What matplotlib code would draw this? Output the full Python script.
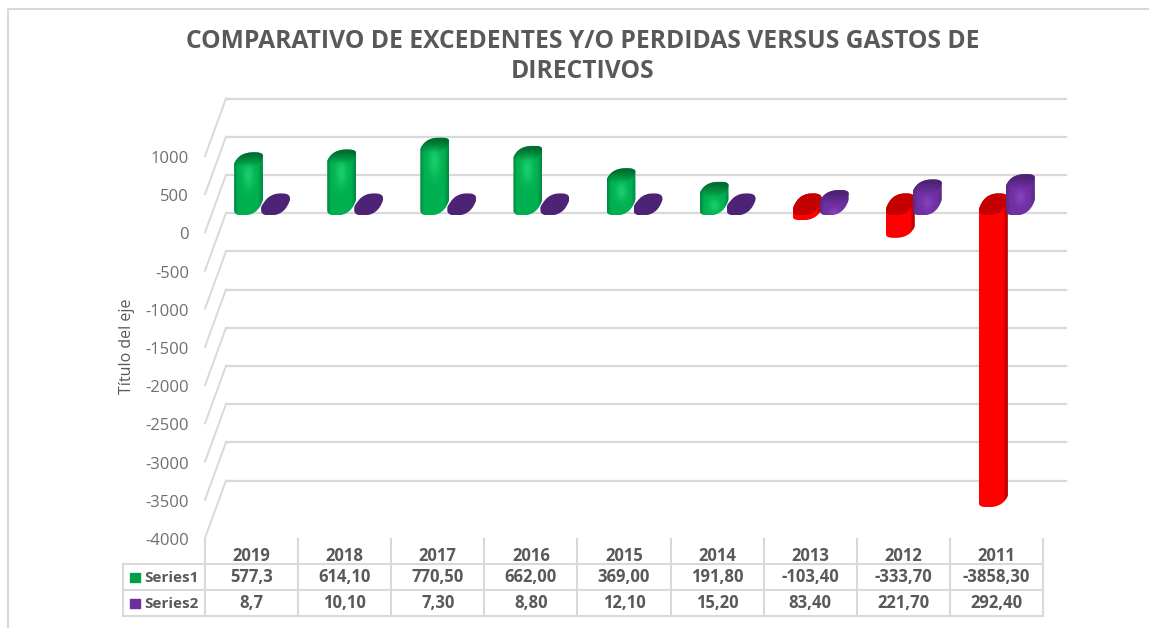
import numpy as np
import matplotlib
matplotlib.use('Agg')
import matplotlib.pyplot as plt
from matplotlib.path import Path
from matplotlib.patches import PathPatch

plt.rcParams['font.family'] = ['Open Sans', 'DejaVu Sans']

years = ['2019', '2018', '2017', '2016', '2015', '2014', '2013', '2012', '2011']
series1 = [577.3, 614.10, 770.50, 662.00, 369.00, 191.80, -103.40, -333.70, -3858.30]
series2 = [8.7, 10.10, 7.30, 8.80, 12.10, 15.20, 83.40, 221.70, 292.40]
series1_txt = ['577,3', '614,10', '770,50', '662,00', '369,00', '191,80', '-103,40', '-333,70', '-3858,30']
series2_txt = ['8,7', '10,10', '7,30', '8,80', '12,10', '15,20', '83,40', '221,70', '292,40']
ticks = [1000, 500, 0, -500, -1000, -1500, -2000, -2500, -3000, -3500, -4000]

W, H = 1149, 628
grey = '#d9d9d9'
txt = '#595959'

# pixel sizes of one category / one unit in the main axes
PX_X = 1 / 93.1
PX_Y = 500 / 38.2
Y_SHIFT = 28 * PX_Y
BACK_X, BACK_Y = 21 * PX_X, 57.5 * PX_Y

fig = plt.figure(figsize=(W / 100, H / 100), dpi=100)

# overlay in pixels for frame, title and table
bg = fig.add_axes([0, 0, 1, 1])
bg.set_xlim(0, W)
bg.set_ylim(H, 0)
bg.axis('off')

ax = fig.add_axes([205 / W, 1 - 538 / H, 838 / W, 382 / H])
ax.set_xlim(0, 9)
ax.set_ylim(-4000, 1000)
ax.axis('off')


def leaf(cx, cy, hy):
    t = np.linspace(0, 2 * np.pi, 160)
    u = np.sign(np.cos(t)) * np.abs(np.cos(t)) ** 0.8
    v = np.sign(np.sin(t)) * np.abs(np.sin(t)) ** 0.8
    x = cx + (12.6 * u + 5.6 * v) * PX_X
    y = cy + hy * v * PX_Y
    return np.column_stack([x, y])


def hull(pts):
    pts = sorted(map(tuple, pts))
    def half(seq):
        out = []
        for p in seq:
            while len(out) > 1 and (out[-1][0] - out[-2][0]) * (p[1] - out[-2][1]) - (out[-1][1] - out[-2][1]) * (p[0] - out[-2][0]) <= 0:
                out.pop()
            out.append(p)
        return out[:-1]
    return np.array(half(pts) + half(pts[::-1]))


def shaded(outline, rgba, z):
    patch = PathPatch(Path(np.vstack([outline, outline[0]])), transform=ax.transData, fc='none', ec='none')
    ax.add_patch(patch)
    x0, x1 = outline[:, 0].min(), outline[:, 0].max()
    y0, y1 = outline[:, 1].min(), outline[:, 1].max()
    im = ax.imshow(rgba, extent=(x0, x1, y0, y1), origin='lower', aspect='auto', zorder=z,
                   interpolation='bilinear')
    im.set_clip_box(fig.bbox)
    im.set_clip_path(patch)


def hexrgb(c):
    return np.array(matplotlib.colors.to_rgb(c))


def side_img(edge_l, mid, hi, edge_r, hi_at):
    # cylinder shading across the bar, with a soft highlight near the top
    x = np.linspace(0, 1, 40)
    y = np.linspace(0, 1, 80)
    xx, yy = np.meshgrid(x, y)
    img = np.zeros(xx.shape + (3,))
    for k in range(3):
        img[..., k] = np.where(xx < 0.5,
                               np.interp(xx, [0, 0.14, 0.5], [edge_l[k], mid[k], mid[k]]),
                               np.interp(xx, [0.5, 0.84, 1], [mid[k], mid[k], edge_r[k]]))
    glow = np.exp(-((xx - 0.5) / 0.2) ** 2 - ((yy - hi_at) / 0.2) ** 2)
    return img * (1 - glow[..., None] * 0.8) + hi * glow[..., None] * 0.8


def cap_img(top, bottom, fade=1.0):
    y = np.linspace(0, 1, 40)[:, None, None]
    c = bottom * (1 - y ** fade) + top * y ** fade
    return np.repeat(c, 4, axis=1)


def draw_bar(i, offset, val, pal, z):
    cx = i + 0.5 + offset * PX_X
    base = leaf(cx, Y_SHIFT, 11)
    end = leaf(cx, Y_SHIFT + val, 8)
    body = hull(np.vstack([base, end]))
    if abs(val) < 30:
        shaded(body, cap_img(pal['cap'], pal['cap']), z)
    elif val > 0:
        h = (body[:, 1].max() - body[:, 1].min()) / PX_Y
        shaded(body, side_img(pal['edge'], pal['mid'], pal['hi'], pal['edge'], 1 - 24 / h), z)
        # dark top face fading into the side at its lower edge
        alpha = np.clip(np.linspace(-0.1, 1.25, 40), 0, 1)[:, None, None]
        rgba = np.dstack([cap_img(pal['cap'], pal['cap']), np.repeat(alpha, 4, axis=1)])
        shaded(end, rgba, z + 0.1)
    else:
        # negative bars hang under the darker top face at the zero level
        shaded(body, side_img(pal['mid'], pal['mid'], pal['mid'], pal['edge'], 0.5), z)
        shaded(base, cap_img(pal['cap'], pal['cap']), z + 0.1)


green = dict(edge=hexrgb('#008a42'), mid=hexrgb('#00b050'), hi=hexrgb('#1fd673'), cap=hexrgb('#006f30'))
purple = dict(edge=hexrgb('#5a2a85'), mid=hexrgb('#6f30a2'), hi=hexrgb('#8a45c0'), cap=hexrgb('#4d2375'))
red = dict(edge=hexrgb('#a80000'), mid=hexrgb('#ff0000'), hi=hexrgb('#ff0000'), cap=hexrgb('#c40000'))

# back wall and side wall gridlines
for t in ticks:
    ax.plot([0, BACK_X], [t, t + BACK_Y], color=grey, lw=1.4, clip_on=False, zorder=1)
    ax.plot([BACK_X, 9 + 23 * PX_X], [t + BACK_Y, t + BACK_Y], color=grey, lw=1.6, clip_on=False, zorder=1)
    ax.text(-16 * PX_X, t - 3 * PX_Y, str(t), ha='right', va='center', fontsize=12, color='#6f6f6f', clip_on=False)

for i in range(9):
    draw_bar(i, -3, series1[i], green if series1[i] >= 0 else red, 3 + i * 0.01)
    draw_bar(i, 24, series2[i], purple, 4 + i * 0.01)

ax.set_xlim(0, 9)
ax.set_ylim(-4000, 1000)

# frame of the pasted picture
bg.plot([7.5, 7.5, W], [H, 8.5, 8.5], color=grey, lw=1.5)

bg.text(583, 41, 'COMPARATIVO DE EXCEDENTES Y/O PERDIDAS VERSUS GASTOS DE', ha='center', va='center',
        fontsize=17.7, fontweight='bold', color=txt)
bg.text(583, 71, 'DIRECTIVOS', ha='center', va='center', fontsize=17.7, fontweight='bold', color=txt)
bg.text(127, 346, 'Título del eje', rotation=90, ha='center', va='center', fontsize=11.5, color=txt)

# data table
col_w = 93.1
for k in range(10):
    bg.plot([205 + k * col_w] * 2, [539, 616], color=grey, lw=1.5)
bg.plot([123, 123], [564, 616], color=grey, lw=1.5)
for yy in [564, 590, 616]:
    bg.plot([123, 1043], [yy, yy], color=grey, lw=1.5)
for i in range(9):
    x = 205 + (i + 0.5) * col_w
    bg.text(x, 556, years[i], ha='center', va='center', fontsize=12, fontweight='bold', color=txt)
    bg.text(x, 577.5, series1_txt[i], ha='center', va='center', fontsize=12, fontweight='bold', color=txt)
    bg.text(x, 603.5, series2_txt[i], ha='center', va='center', fontsize=12, fontweight='bold', color=txt)
bg.text(144, 577.5, 'Series1', ha='left', va='center', fontsize=11, fontweight='bold', color=txt)
bg.text(144, 603.5, 'Series2', ha='left', va='center', fontsize=11, fontweight='bold', color=txt)
bg.fill([130, 140, 140, 130], [573, 573, 582, 582], color='#00a04a')
bg.fill([130, 140, 140, 130], [599, 599, 608, 608], color='#6a2f9c')

fig.savefig('out.png', dpi=100, facecolor='white')
